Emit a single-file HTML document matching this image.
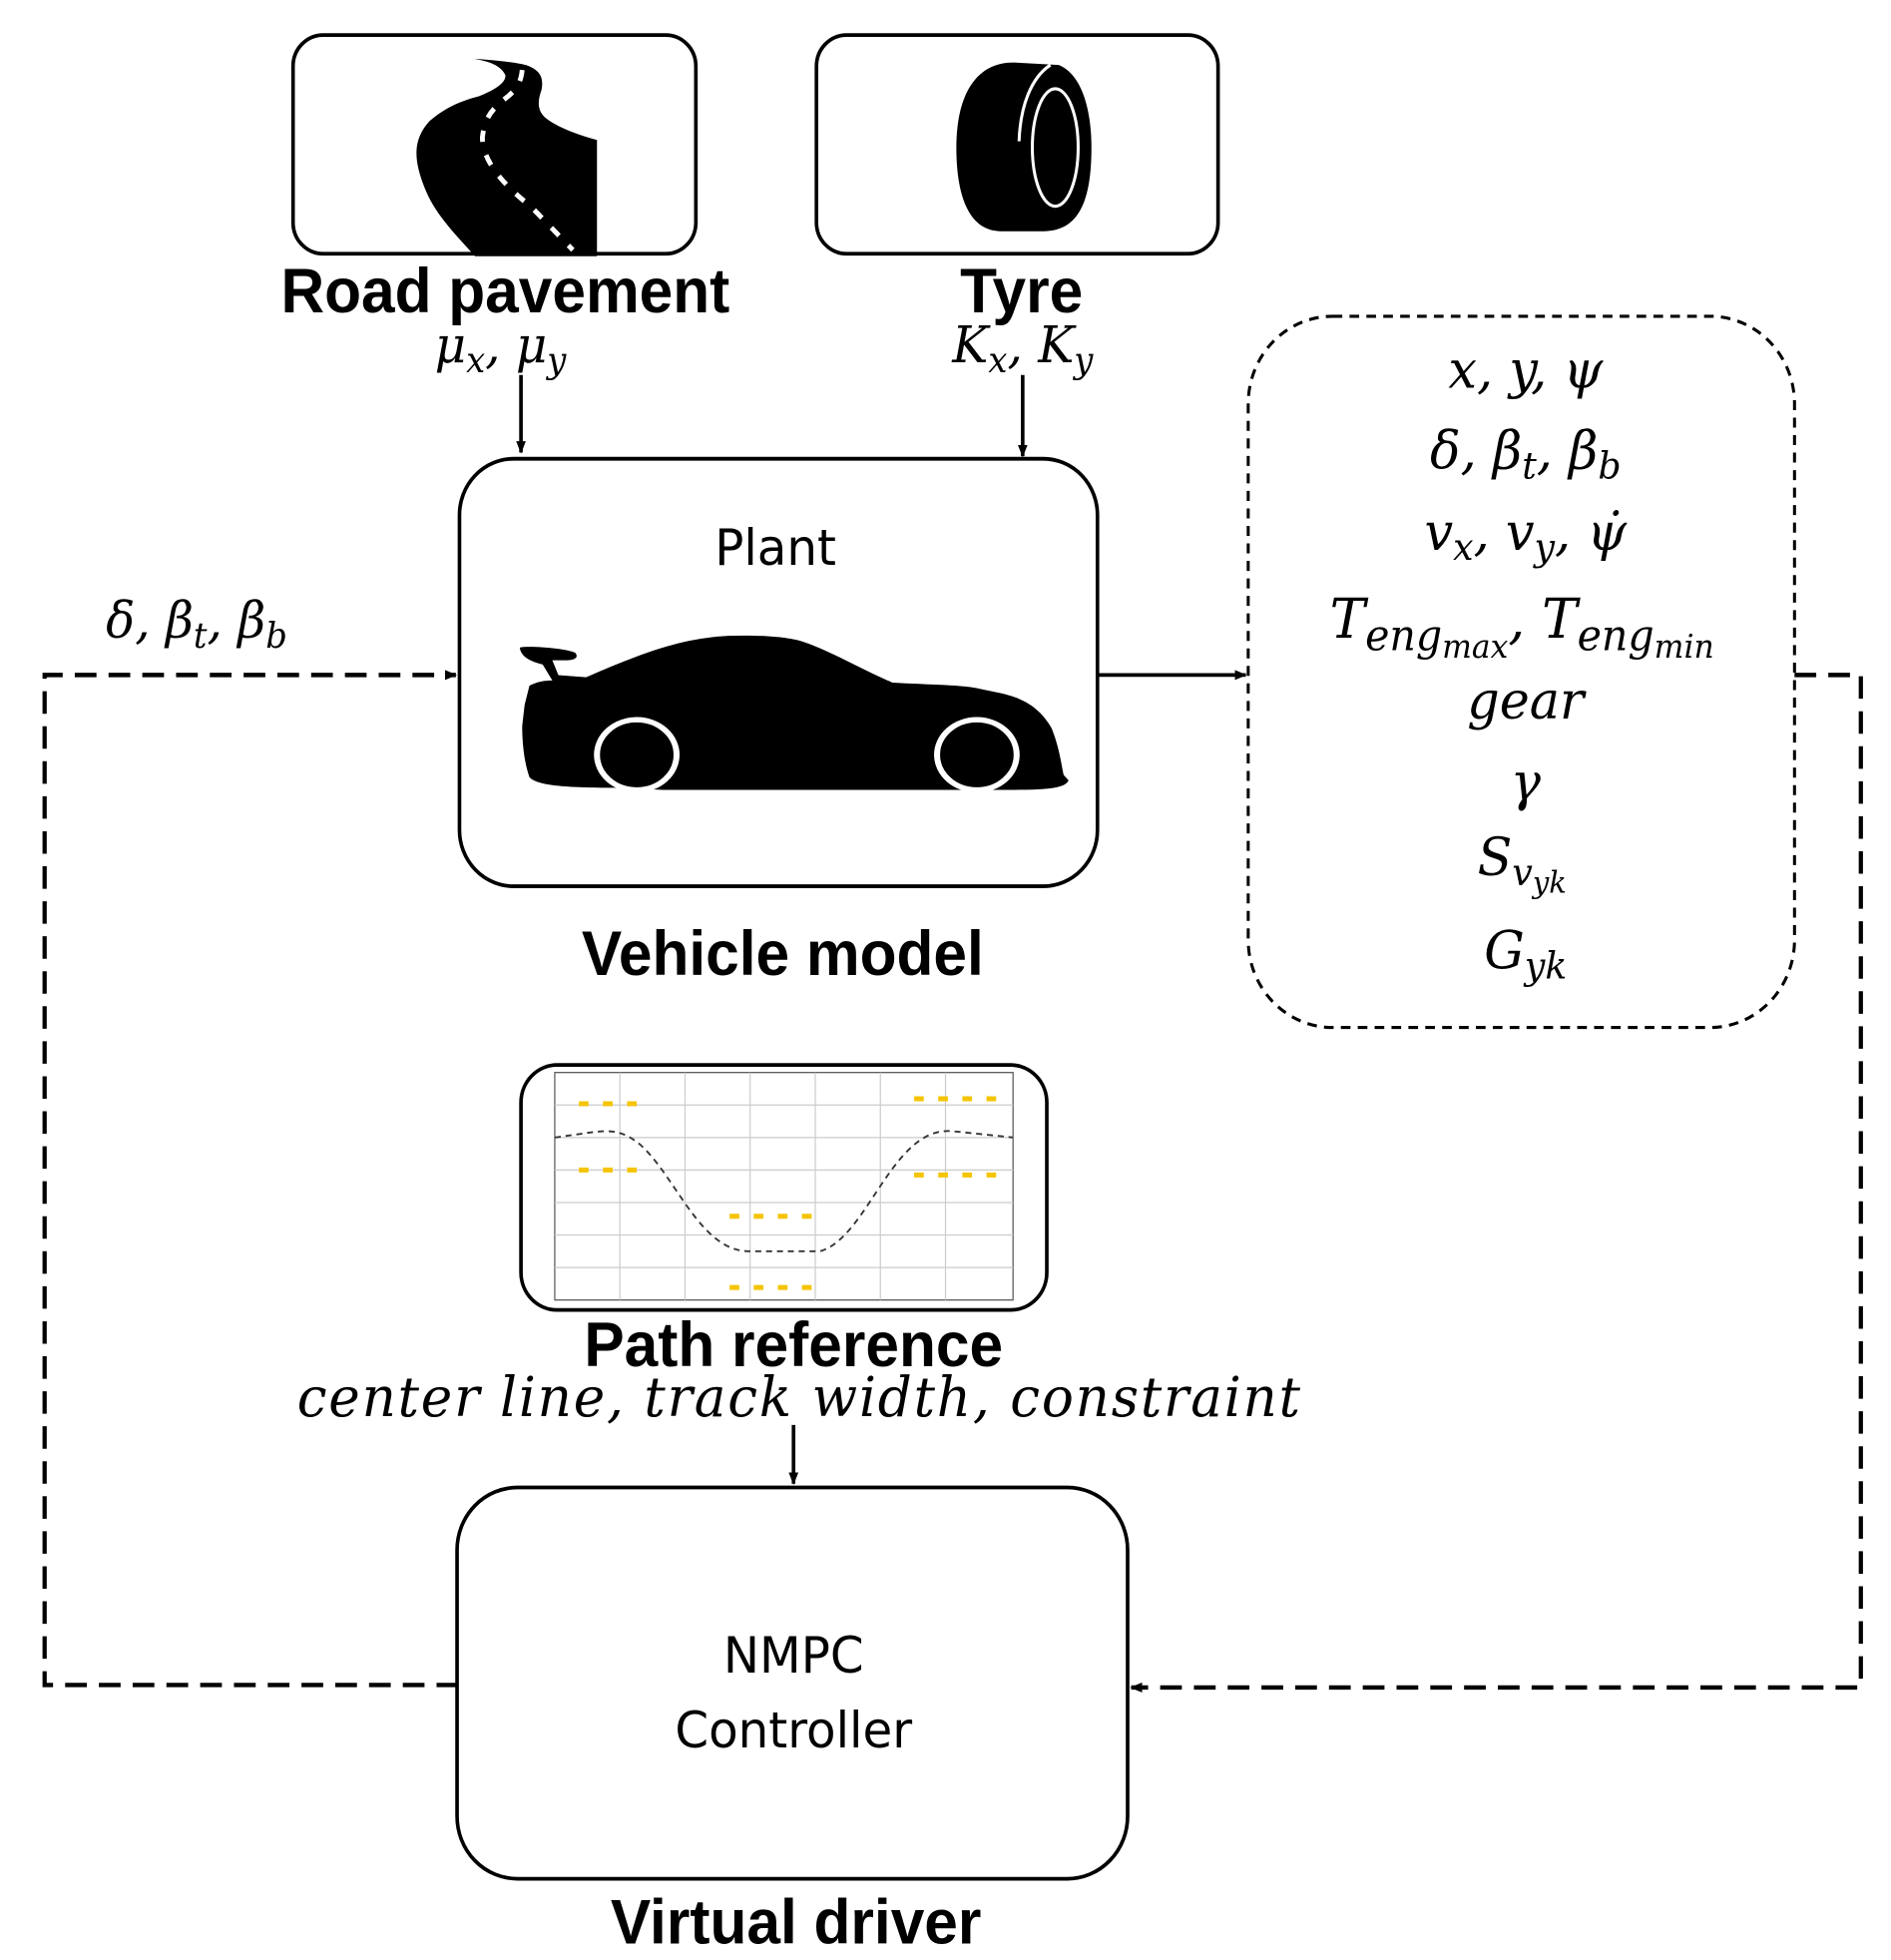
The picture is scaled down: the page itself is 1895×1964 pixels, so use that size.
<!DOCTYPE html>
<html><head><meta charset="utf-8"><style>html,body{margin:0;padding:0;background:#fff}svg{display:block}</style></head>
<body>
<svg width="1895" height="1964" viewBox="0 0 1568 1568" preserveAspectRatio="none" xmlns="http://www.w3.org/2000/svg">
<defs>
<marker id="ah" markerWidth="10" markerHeight="10" refX="9" refY="5" orient="auto" markerUnits="userSpaceOnUse"><path d="M0,1 L10,5 L0,9 z" fill="#000"/></marker>
</defs>
<g fill="none" stroke="#000" stroke-width="3">
<rect x="243" y="28" width="334" height="175" rx="25"/>
<rect x="677" y="28" width="333" height="175" rx="25"/>
<rect x="381" y="367" width="529" height="342" rx="45"/>
<rect x="432" y="852" width="436" height="196" rx="30"/>
<rect x="379" y="1190" width="556" height="313" rx="50"/>
<rect x="1035" y="253" width="453" height="569" rx="70" stroke-width="2.5" stroke-dasharray="8,6"/>
<line x1="432" y1="300" x2="432" y2="362" marker-end="url(#ah)"/>
<line x1="848" y1="300" x2="848" y2="365" marker-end="url(#ah)"/>
<line x1="910" y1="540" x2="1033" y2="540" marker-end="url(#ah)"/>
<line x1="658" y1="1140" x2="658" y2="1187" marker-end="url(#ah)"/>
<path d="M380,1348 H37 V540 H378" stroke-width="3.5" stroke-dasharray="18,10" marker-end="url(#ah)"/>
<path d="M1488,540 H1543 V1350 H938" stroke-width="3.5" stroke-dasharray="18,10" marker-end="url(#ah)"/>
</g>
<!-- road icon -->
<path d="M393,47 C410,48 428,50 436,52 C448,56 451,62 449,72 C446,80 445,88 452,94 C462,102 480,108 495,112 L495,205 L394,205 C375,185 360,170 352,150 C343,128 342,112 356,97 C370,85 385,80 397,77 C410,72 420,66 419,60 C415,52 405,49 393,47 Z" fill="#000"/>
<path d="M433,56 C432,66 428,72 420,78 C410,86 402,92 400,110 C400,130 420,150 440,165 L475,200" stroke="#fff" stroke-width="4" stroke-dasharray="9,11" fill="none"/>
<!-- tyre icon -->
<path d="M840,50 L878,52 C898,60 905,90 905,118 C905,160 895,185 865,185 L830,185 C805,185 793,160 793,118 C793,75 810,50 840,50 Z" fill="#000"/>
<path d="M871,52 C855,62 846,85 845,113" fill="none" stroke="#fff" stroke-width="2.5"/>
<ellipse cx="875" cy="118" rx="19" ry="47" fill="#000" stroke="#fff" stroke-width="2.5"/>
<!-- car -->
<g transform="translate(0,55.6) scale(1,0.85)">
<path d="M431,544 C440,542 470,545 477,549 C480,553 477,556 470,556 L458,556 L463,570 L486,572 C540,545 570,535 604,533 C630,532 655,534 667,539 C690,548 715,565 740,577 C770,579 800,579 813,583 L830,587 C850,592 863,602 872,620 C879,640 880,655 882,664 L886,669 C884,676 870,678 841,678 L550,678 L510,676 C470,676 445,674 439,666 C434,650 433,630 433,618 L435,598 L439,580 C445,576 452,575 458,575 L450,560 C440,557 432,553 431,544 Z" fill="#000"/>
<circle cx="528" cy="645" r="33" fill="#000" stroke="#fff" stroke-width="5"/>
<circle cx="810" cy="645" r="33" fill="#000" stroke="#fff" stroke-width="5"/>
</g>
<!-- chart -->
<g stroke="#ccc" stroke-width="1">
<rect x="460" y="858" width="380" height="182" fill="#fff" stroke="#555"/>
<line x1="514" y1="858" x2="514" y2="1040"/><line x1="568" y1="858" x2="568" y2="1040"/><line x1="622" y1="858" x2="622" y2="1040"/><line x1="676" y1="858" x2="676" y2="1040"/><line x1="730" y1="858" x2="730" y2="1040"/><line x1="784" y1="858" x2="784" y2="1040"/>
<line x1="460" y1="884" x2="840" y2="884"/><line x1="460" y1="910" x2="840" y2="910"/><line x1="460" y1="936" x2="840" y2="936"/><line x1="460" y1="962" x2="840" y2="962"/><line x1="460" y1="988" x2="840" y2="988"/><line x1="460" y1="1014" x2="840" y2="1014"/>
</g>
<path d="M460,910 C500,905 510,900 530,915 C560,940 580,1000 620,1001 L680,1001 C720,990 740,900 790,905 L840,910" fill="none" stroke="#333" stroke-width="1.5" stroke-dasharray="5,4"/>
<g stroke="#f5c400" stroke-width="4" stroke-dasharray="8,12" fill="none">
<line x1="480" y1="883" x2="535" y2="883"/><line x1="480" y1="936" x2="535" y2="936"/>
<line x1="605" y1="973" x2="685" y2="973"/><line x1="605" y1="1030" x2="685" y2="1030"/>
<line x1="758" y1="879" x2="835" y2="879"/><line x1="758" y1="940" x2="835" y2="940"/>
</g>
<g font-family="Liberation Sans, sans-serif" font-weight="bold" font-size="50" text-anchor="middle" fill="#000">
<text x="419" y="250">Road pavement</text>
<text x="847" y="250">Tyre</text>
<text x="649" y="780">Vehicle model</text>
<text x="658" y="1093">Path reference</text>
<text x="660" y="1555">Virtual driver</text>
</g>
<g font-family="DejaVu Sans, sans-serif" font-size="40" text-anchor="middle" fill="#000">
<text x="643" y="452">Plant</text>
<text x="658" y="1338">NMPC</text>
<text x="658" y="1398">Controller</text>
</g>
<g font-family="DejaVu Serif, serif" font-style="italic" font-size="42" text-anchor="middle" fill="#000">
<text x="415" y="290" font-size="40">μ<tspan font-size="28" dy="8">x</tspan><tspan dy="-8">, μ</tspan><tspan font-size="28" dy="8">y</tspan></text>
<text x="848" y="290" font-size="40">K<tspan font-size="28" dy="8">x</tspan><tspan dy="-8">, K</tspan><tspan font-size="28" dy="8">y</tspan></text>
<text x="163" y="510" font-size="40">δ, β<tspan font-size="28" dy="8">t</tspan><tspan dy="-8">, β</tspan><tspan font-size="28" dy="8">b</tspan></text>
<text x="663" y="1133" font-size="44" letter-spacing="1.5">center line, track width, constraint</text>
<text x="1265" y="310">x, y, ψ</text>
<text x="1265" y="375">δ, β<tspan font-size="30" dy="8">t</tspan><tspan dy="-8">, β</tspan><tspan font-size="30" dy="8">b</tspan></text>
<text x="1265" y="440">v<tspan font-size="30" dy="8">x</tspan><tspan dy="-8">, v</tspan><tspan font-size="30" dy="8">y</tspan><tspan dy="-8">, ψ̇</tspan></text>
<text x="1262" y="510" font-size="44">T<tspan font-size="34" dy="10">eng</tspan><tspan font-size="26" dy="6">max</tspan><tspan dy="-16">, T</tspan><tspan font-size="34" dy="10">eng</tspan><tspan font-size="26" dy="6">min</tspan></text>
<text x="1265" y="575">gear</text>
<text x="1265" y="640">γ</text>
<text x="1262" y="700">S<tspan font-size="30" dy="8">v</tspan><tspan font-size="24" dy="6">yk</tspan></text>
<text x="1265" y="775">G<tspan font-size="30" dy="8">yk</tspan></text>
</g>
</svg>
</body></html>
